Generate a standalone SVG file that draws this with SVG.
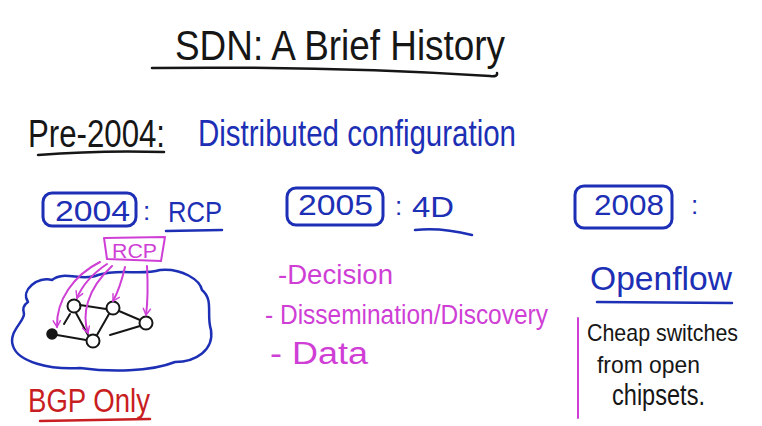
<svg xmlns="http://www.w3.org/2000/svg" width="762" height="426" viewBox="0 0 762 426">
  <style>
    text { font-family: "Liberation Sans", Arial, sans-serif; }
    .ink { fill: #161616; }
    .blue { fill: #1c2fb5; }
    .mag { fill: #cf3fd6; }
    .red { fill: #c81e22; }
    .line { fill: none; stroke-linecap: round; stroke-linejoin: round; }
    .bk { stroke: #161616; }
    .bl { stroke: #1c2fb5; }
    .mg { stroke: #cf3fd6; }
    .rd { stroke: #c81e22; }
    .node { fill: #ffffff; stroke: #161616; stroke-width: 2; }
  </style>
  <defs>
    <marker id="arrow" viewBox="0 0 10 10" refX="8" refY="5" markerWidth="9" markerHeight="9" markerUnits="userSpaceOnUse" orient="auto">
      <path d="M1,1 L8,5 L1,9" fill="none" stroke="#cf3fd6" stroke-width="1.6" stroke-linecap="round"/>
    </marker>
  </defs>

  <rect width="762" height="426" fill="#ffffff"/>

  <!-- title -->
  <g id="title">
    <text x="175" y="60" font-size="42" textLength="330" lengthAdjust="spacingAndGlyphs" class="ink">SDN: A Brief History</text>
    <path d="M152,68 Q330,66 490,76 Q498,77 497,73" class="line bk" stroke-width="2.5"/>
  </g>

  <!-- pre-2004 line -->
  <g id="pre2004">
    <text x="28" y="147" font-size="38" textLength="137" lengthAdjust="spacingAndGlyphs" class="ink">Pre-2004:</text>
    <path d="M38,155 Q100,150 164,152" class="line bk" stroke-width="2.5"/>
    <text x="198" y="146" font-size="36" textLength="318" lengthAdjust="spacingAndGlyphs" class="blue">Distributed configuration</text>
  </g>

  <!-- 2004 : RCP -->
  <g id="y2004">
    <rect x="43" y="193" width="93" height="33" rx="9" class="line bl" stroke-width="3"/>
    <text x="55" y="221" font-size="30" textLength="75" lengthAdjust="spacingAndGlyphs" class="blue">2004</text>
    <text x="143" y="220" font-size="26" class="blue">:</text>
    <text x="168" y="222" font-size="30" textLength="54" lengthAdjust="spacingAndGlyphs" class="blue">RCP</text>
    <path d="M166,231 L222,230" class="line bl" stroke-width="2.5"/>
  </g>

  <!-- controller box -->
  <g id="rcp-box">
    <path d="M104,238 L165,237 L161,261 L107,259 Z" class="line mg" stroke-width="2"/>
    <text x="112" y="258" font-size="20" textLength="45" lengthAdjust="spacingAndGlyphs" class="mag">RCP</text>
  </g>

  <!-- network cloud -->
  <g id="cloud">
    <path d="M28,302 C20,290 38,276 52,280 C64,270 82,282 98,275 C120,268 140,276 160,270 C182,268 200,280 202,290 C214,300 206,315 211,330 C214,350 196,362 175,362 C150,372 110,372 80,368 C50,370 18,362 13,346 C8,332 24,322 24,314 C22,308 25,304 28,302 Z" class="line bl" stroke-width="2.5"/>
  </g>

  <!-- routers -->
  <g id="router-a"><circle cx="74" cy="306" r="6.5" class="node"/></g>
  <g id="router-b"><circle cx="113" cy="308" r="6.5" class="node"/></g>
  <g id="router-c"><circle cx="146" cy="323" r="6.5" class="node"/></g>
  <g id="router-d"><circle cx="93" cy="341" r="6.5" class="node"/></g>
  <g id="router-e"><circle cx="52" cy="334" r="5" fill="#161616" stroke="#161616" stroke-width="1.5"/></g>

  <!-- links and controller arrows -->
  <g id="connectors">
    <path d="M80,305 L106,309" class="line bk" stroke-width="2"/>
    <path d="M76,313 L88,335" class="line bk" stroke-width="2"/>
    <path d="M57,335 L86,340" class="line bk" stroke-width="2"/>
    <path d="M109,314 L97,335" class="line bk" stroke-width="2"/>
    <path d="M119,311 L140,320" class="line bk" stroke-width="2"/>
    <path d="M140,326 L110,335" class="line bk" stroke-width="2"/>
    <path d="M70,314 L64,324" class="line bk" stroke-width="2"/>

    <path d="M100,262 C74,275 56,300 57,327" class="line mg" stroke-width="2" marker-end="url(#arrow)"/>
    <path d="M107,264 C92,274 82,286 77,298" class="line mg" stroke-width="2" marker-end="url(#arrow)"/>
    <path d="M112,266 C86,290 82,315 88,333" class="line mg" stroke-width="2" marker-end="url(#arrow)"/>
    <path d="M125,267 C121,284 117,294 113,301" class="line mg" stroke-width="2" marker-end="url(#arrow)"/>
    <path d="M147,266 C148,285 148,300 146,315" class="line mg" stroke-width="2" marker-end="url(#arrow)"/>
  </g>

  <g id="bgp-only">
    <text x="28" y="412" font-size="34" textLength="122" lengthAdjust="spacingAndGlyphs" class="red">BGP Only</text>
    <path d="M40,421 L150,419" class="line rd" stroke-width="2.5"/>
  </g>

  <!-- 2005 : 4D -->
  <g id="y2005">
    <rect x="287" y="188" width="96" height="37" rx="9" class="line bl" stroke-width="3"/>
    <text x="298" y="215" font-size="30" textLength="75" lengthAdjust="spacingAndGlyphs" class="blue">2005</text>
    <text x="395" y="215" font-size="26" class="blue">:</text>
    <text x="412" y="217" font-size="30" textLength="42" lengthAdjust="spacingAndGlyphs" class="blue">4D</text>
    <path d="M415,230 Q440,227 472,235" class="line bl" stroke-width="2.5"/>
  </g>

  <g id="planes">
    <text x="278" y="284" font-size="27" textLength="115" lengthAdjust="spacingAndGlyphs" class="mag">-Decision</text>
    <text x="265" y="324" font-size="27" textLength="283" lengthAdjust="spacingAndGlyphs" class="mag">- Dissemination/Discovery</text>
    <text x="270" y="364" font-size="31" textLength="98" lengthAdjust="spacingAndGlyphs" class="mag">- Data</text>
  </g>

  <!-- 2008 : Openflow -->
  <g id="y2008">
    <rect x="575" y="186" width="97" height="42" rx="9" class="line bl" stroke-width="3"/>
    <text x="594" y="215" font-size="30" textLength="70" lengthAdjust="spacingAndGlyphs" class="blue">2008</text>
    <text x="691" y="214" font-size="26" class="blue">:</text>
    <text x="590" y="290" font-size="34" textLength="142" lengthAdjust="spacingAndGlyphs" class="blue">Openflow</text>
    <path d="M597,302 L732,303" class="line bl" stroke-width="2.5"/>
  </g>

  <g id="chipsets">
    <path d="M578,318 L578,418" class="line mg" stroke-width="2"/>
    <text x="587" y="341" font-size="24" textLength="151" lengthAdjust="spacingAndGlyphs" class="ink">Cheap switches</text>
    <text x="597" y="373" font-size="24" textLength="103" lengthAdjust="spacingAndGlyphs" class="ink">from open</text>
    <text x="612" y="405" font-size="30" textLength="93" lengthAdjust="spacingAndGlyphs" class="ink">chipsets.</text>
  </g>
</svg>
